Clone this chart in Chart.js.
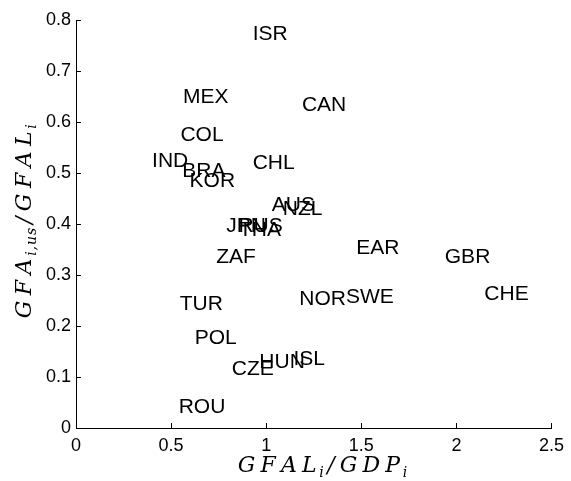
<!DOCTYPE html>
<html>
<head>
<meta charset="utf-8">
<script src="https://cdn.jsdelivr.net/npm/chart.js@4.4.1/dist/chart.umd.min.js"></script>
<style>
html,body{margin:0;padding:0;background:#fff;}
#wrap{width:571px;height:481px;}
</style>
</head>
<body>
<div id="wrap"><canvas id="c" width="571" height="481"></canvas></div>
<script>
const countries = ['ISR','MEX','CAN','COL','IND','BRA','KOR','CHL','AUS','NZL','JPN','RUS','THA','ZAF','EAR','GBR','CHE','TUR','NOR','SWE','POL','CZE','HUN','ISL','ROU'];
const gfalToGdp = [0.929,0.562,1.188,0.549,0.400,0.559,0.597,0.929,1.029,1.087,0.790,0.854,0.857,0.737,1.474,1.939,2.147,0.545,1.174,1.419,0.624,0.819,0.964,1.143,0.540];
const gfaUsShare = [0.775,0.650,0.635,0.576,0.525,0.506,0.486,0.522,0.439,0.431,0.398,0.398,0.389,0.336,0.354,0.337,0.264,0.244,0.254,0.258,0.178,0.118,0.131,0.137,0.043];
const xTicks = [0,0.5,1,1.5,2,2.5];
const yTicks = [0,0.1,0.2,0.3,0.4,0.5,0.6,0.7,0.8];
const xTitleParts = [['GFAL',0],['i',1],['/GDP',0],['i',1]];
const yTitleParts = [['GFA',0],['i,us',1],['/GFAL',0],['i',1]];

const points = countries.map((c,i)=>({x:gfalToGdp[i], y:gfaUsShare[i]}));

function drawMath(ctx, parts, cx, cy, target) {
  const mainFont = 'italic 22px "DejaVu Serif"';
  const subFont = 'italic 14px "DejaVu Serif"';
  let natural = 0, nMain = 0;
  parts.forEach(p => {
    ctx.font = p[1] ? subFont : mainFont;
    natural += ctx.measureText(p[0]).width + (p[1] ? p[0].length * 1 : 0);
    if (!p[1]) nMain += p[0].length;
  });
  const sp = Math.max(0, (target - natural) / nMain);
  let x = cx - target / 2;
  parts.forEach(p => {
    ctx.font = p[1] ? subFont : mainFont;
    for (const ch of p[0]) {
      const w = ctx.measureText(ch).width;
      if (p[1]) { ctx.fillText(ch, x, cy + 5); x += w + 1; }
      else { ctx.fillText(ch, x + sp / 2, cy); x += w + sp; }
    }
  });
}

const labelPlugin = {
  id: 'labels',
  afterDraw(chart) {
    const ctx = chart.ctx;
    const xs = chart.scales.x, ys = chart.scales.y;
    const area = chart.chartArea;
    ctx.save();
    ctx.strokeStyle = '#000';
    ctx.lineWidth = 1;
    ctx.beginPath();
    xTicks.forEach(v => { const px = Math.round(xs.getPixelForValue(v)) + 0.5; ctx.moveTo(px, area.bottom); ctx.lineTo(px, area.bottom - 5); });
    yTicks.forEach(v => { const py = Math.round(ys.getPixelForValue(v)) + 0.5; ctx.moveTo(area.left, py); ctx.lineTo(area.left + 5, py); });
    ctx.stroke();
    const meta = chart.getDatasetMeta(0);
    ctx.fillStyle = '#000';
    ctx.font = '21px "Liberation Sans"';
    ctx.textAlign = 'left';
    ctx.textBaseline = 'middle';
    meta.data.forEach((el, i) => { ctx.fillText(countries[i], el.x, el.y + 1); });
    ctx.textAlign = 'left';
    ctx.textBaseline = 'alphabetic';
    drawMath(ctx, xTitleParts, (area.left + area.right) / 2 + 7, 472, 171);
    ctx.translate(31, (area.top + area.bottom) / 2);
    ctx.rotate(-Math.PI / 2);
    drawMath(ctx, yTitleParts, 0, 0, 194);
    ctx.restore();
  }
};

new Chart(document.getElementById('c'), {
  type: 'scatter',
  data: { datasets: [{ data: points, pointRadius: 0, pointHoverRadius: 0, showLine: false }] },
  options: {
    responsive: false,
    animation: false,
    events: [],
    layout: { padding: { top: 20, right: 18, left: 0, bottom: 0 } },
    plugins: { legend: { display: false }, tooltip: { enabled: false } },
    scales: {
      x: {
        type: 'linear', min: 0, max: 2.5,
        afterFit(s) { s.height = 53; },
        afterBuildTicks(s) { s.ticks = xTicks.map(v => ({ value: v })); },
        grid: { display: true, drawOnChartArea: false, drawTicks: false },
        border: { display: true, color: '#000', width: 1 },
        ticks: { color: '#000', font: { family: '"Liberation Sans"', size: 18 }, padding: 7, maxRotation: 0,
          callback: v => String(v) }
      },
      y: {
        type: 'linear', min: 0, max: 0.8,
        afterFit(s) { s.width = 76; },
        afterBuildTicks(s) { s.ticks = yTicks.map(v => ({ value: v })); },
        grid: { display: true, drawOnChartArea: false, drawTicks: false },
        border: { display: true, color: '#000', width: 1 },
        ticks: { color: '#000', font: { family: '"Liberation Sans"', size: 18 }, padding: 5,
          callback: v => String(Math.round(v * 10) / 10) }
      }
    }
  },
  plugins: [labelPlugin]
});
</script>
</body>
</html>
